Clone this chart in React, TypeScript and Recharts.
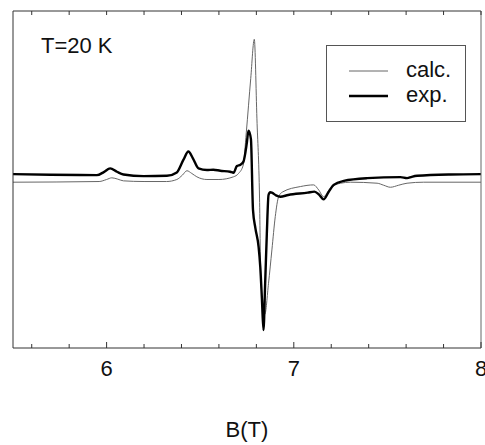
import React from "react";
import { LineChart, Line, XAxis, YAxis, Legend, Label } from "recharts";

// field values (T) and signal (arb. units) for each trace
const calcB = [5.5, 5.96, 6.0, 6.028, 6.06, 6.09, 6.2, 6.32, 6.375, 6.405, 6.429, 6.455, 6.482, 6.536, 6.6, 6.678, 6.705, 6.73, 6.746, 6.77, 6.789, 6.803, 6.817, 6.824, 6.845, 6.865, 6.883, 6.901, 6.919, 6.94, 7.035, 7.106, 7.133, 7.159, 7.195, 7.25, 7.302, 7.445, 7.48, 7.516, 7.56, 7.605, 7.694, 8.0];
const calcV = [49.2, 49.4, 50.0, 50.5, 50.1, 49.6, 49.4, 49.4, 50.0, 51.3, 52.6, 51.8, 50.8, 50.0, 50.0, 50.8, 51.8, 54.3, 63.8, 80, 91.6, 68, 44.5, 20, 10, 19.2, 29.1, 39, 44.9, 46.3, 47.9, 48.4, 46.9, 44.9, 47.4, 48.9, 49.2, 48.9, 48.3, 47.7, 48.3, 48.9, 49.2, 49.2];

const expB = [5.5, 5.7, 5.948, 5.985, 6.019, 6.055, 6.09, 6.197, 6.322, 6.375, 6.41, 6.437, 6.461, 6.491, 6.536, 6.57, 6.607, 6.66, 6.678, 6.696, 6.715, 6.731, 6.749, 6.758, 6.771, 6.782, 6.795, 6.812, 6.821, 6.83, 6.838, 6.847, 6.856, 6.865, 6.874, 6.883, 6.905, 6.928, 6.97, 7.074, 7.11, 7.135, 7.159, 7.185, 7.213, 7.267, 7.392, 7.57, 7.605, 7.63, 7.659, 7.837, 8.0];
const expV = [51.6, 51.4, 51.3, 52.2, 53.3, 52.3, 51.5, 51.0, 51.1, 52.1, 55.8, 58.3, 56.3, 53.3, 52.8, 52.9, 52.6, 52.3, 52.0, 54.0, 54.4, 55.3, 60.8, 64.5, 62, 41, 35.5, 30, 24, 14.2, 5.3, 19.2, 34, 45.4, 46.2, 46.1, 45.3, 44.9, 45.4, 46.1, 46.4, 45.5, 44.1, 46.2, 48.4, 49.6, 50.4, 50.7, 50.4, 50.8, 51.1, 51.5, 51.6];

const xTicks = [5.6, 5.8, 6.0, 6.2, 6.4, 6.6, 6.8, 7.0, 7.2, 7.4, 7.6, 7.8, 8.0];
const xLabels = [6, 7, 8];

const calcData = calcB.map((b, i) => ({ b, v: calcV[i] }));
const expData = expB.map((b, i) => ({ b, v: expV[i] }));

const FONT = "'Liberation Sans', Arial, Helvetica, sans-serif";
const FRAME = "#333";

const isMajor = (v: number) => xLabels.some((m) => Math.abs(m - v) < 1e-6);

const BottomTick = (props: any) => {
  const { x, y, payload } = props;
  const major = isMajor(payload.value);
  return (
    <g>
      <line x1={x} y1={y} x2={x} y2={y - (major ? 6 : 4)} stroke={FRAME} />
      {major && (
        <text x={x} y={y + 28} textAnchor="middle" fontSize={22} fontFamily={FONT} fill="#111">
          {Math.round(payload.value)}
        </text>
      )}
    </g>
  );
};

const TopTick = (props: any) => {
  const { x, y } = props;
  return <line x1={x} y1={y} x2={x} y2={y + 4} stroke={FRAME} />;
};

const renderLegend = (props: any) => {
  const { payload } = props;
  return (
    <svg width={140} height={77} style={{ display: "block" }}>
      <rect x={0.5} y={0.5} width={139} height={76} fill="#fff" stroke="#555" />
      {(payload || []).map((entry: any, i: number) => (
        <g key={entry.value}>
          <line
            x1={23}
            x2={62}
            y1={26 + i * 25}
            y2={26 + i * 25}
            stroke={entry.color}
            strokeWidth={i === 0 ? 1 : 2.4}
          />
          <text x={80} y={32 + i * 25} fontSize={22} fontFamily={FONT} fill="#111">
            {entry.value}
          </text>
        </g>
      ))}
    </svg>
  );
};

export default function App() {
  return (
    <div style={{ position: "absolute", left: 0, top: 0, background: "#fff" }}>
      <LineChart width={485} height={445} margin={{ top: 10, right: 3, bottom: 0, left: 12 }}>
        <XAxis
          dataKey="b"
          type="number"
          domain={[5.5, 8]}
          ticks={xTicks}
          allowDataOverflow
          height={97}
          tickSize={0}
          tickMargin={0}
          tickLine={false}
          tick={<BottomTick />}
          axisLine={{ stroke: FRAME }}
          interval={0}
        >
          <Label value="B(T)" position="insideBottom" offset={8} fontSize={22} fontFamily={FONT} fill="#111" />
        </XAxis>
        <XAxis
          xAxisId="top"
          orientation="top"
          dataKey="b"
          type="number"
          domain={[5.5, 8]}
          ticks={xTicks}
          allowDataOverflow
          height={1}
          tickSize={0}
          tickMargin={0}
          tickLine={false}
          tick={<TopTick />}
          axisLine={{ stroke: FRAME }}
          interval={0}
        />
        <YAxis domain={[0, 100]} width={1} tick={false} tickLine={false} axisLine={{ stroke: FRAME }} />
        <YAxis yAxisId="r" orientation="right" domain={[0, 100]} width={1} tick={false} tickLine={false} axisLine={{ stroke: "#666" }} />
        <Legend
          layout="vertical"
          align="center"
          verticalAlign="middle"
          wrapperStyle={{ left: 326, top: 45, width: 140, height: 77 }}
          content={renderLegend}
        />
        <Line data={calcData} dataKey="v" name="calc." type="monotone" stroke="#666" strokeWidth={1} dot={false} isAnimationActive={false} />
        <Line data={expData} dataKey="v" name="exp." type="monotone" stroke="#000" strokeWidth={2.4} dot={false} isAnimationActive={false} />
        <text x={41} y={53} fontSize={22} fontFamily={FONT} fill="#111">
          T=20 K
        </text>
      </LineChart>
    </div>
  );
}
